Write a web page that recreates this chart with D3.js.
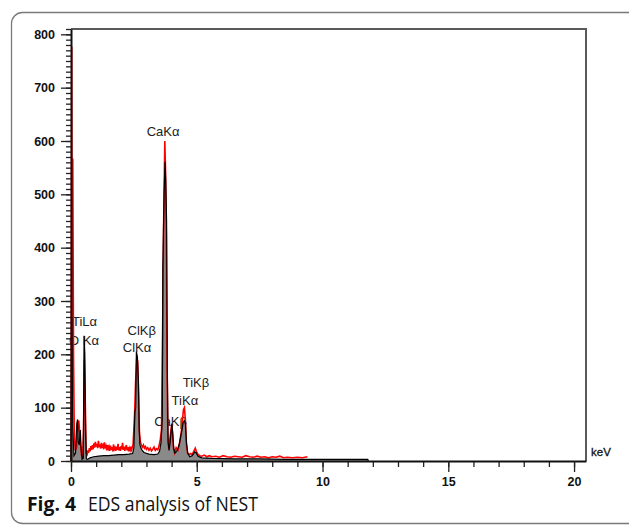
<!DOCTYPE html>
<html>
<head>
<meta charset="utf-8">
<script src="https://cdn.jsdelivr.net/npm/d3@7"></script>
<style>
  html, body { margin: 0; padding: 0; background: #fff; }
  svg { display: block; }
</style>
</head>
<body>
<div id="chart"></div>
<script>
// EDS spectrum of NEST, two acquisitions (gray filled + red line)
const xTicks = [0, 5, 10, 15, 20];
const yTicks = [0, 100, 200, 300, 400, 500, 600, 700, 800];

const blackKeV = [0.00, 0.03, 0.07, 0.12, 0.18, 0.23, 0.26, 0.29, 0.33, 0.37, 0.40, 0.44, 0.49, 0.52, 0.55, 0.58, 0.61, 0.66,
  0.75, 0.90, 1.10, 1.30, 1.50, 1.70, 1.90, 2.10, 2.30, 2.45, 2.50, 2.54, 2.57, 2.60, 2.64, 2.68, 2.71, 2.74, 2.80, 2.90,
  3.10, 3.30, 3.45, 3.52, 3.58, 3.63, 3.65, 3.70, 3.74, 3.77, 3.80, 3.83, 3.86, 3.90, 3.95, 4.01, 4.04, 4.08, 4.13, 4.20,
  4.30, 4.40, 4.46, 4.51, 4.55, 4.59, 4.64, 4.72, 4.82, 4.92, 4.98, 5.05, 5.20, 5.60, 6.50, 7.50, 8.50, 9.50, 10.50, 11.50,
  11.80, 11.82];
const blackCounts = [0, 270, 60, 10, 15, 70, 78, 35, 30, 58, 25, 3, 5, 235, 200, 60, 4, 3,
  6, 8, 9, 10, 10, 11, 12, 12, 13, 14, 25, 92, 100, 205, 195, 150, 60, 30, 22, 16,
  13, 12, 13, 18, 35, 80, 360, 500, 561, 520, 450, 170, 35, 20, 38, 70, 55, 25, 15, 18,
  30, 55, 72, 75, 70, 35, 15, 8, 10, 17, 15, 9, 6, 5, 4, 4, 3, 3, 3, 3,
  3, 0];

const redKeV = [0.00, 0.03, 0.05, 0.07, 0.10, 0.13, 0.17, 0.22, 0.27, 0.31, 0.35, 0.38, 0.42, 0.46, 0.50, 0.53, 0.56, 0.60,
  0.64, 0.67, 0.70, 0.73, 0.76, 0.79, 0.82, 0.85, 0.88, 0.91, 0.94, 0.97, 1.00, 1.03, 1.06, 1.09, 1.12, 1.15, 1.18, 1.21,
  1.24, 1.27, 1.30, 1.33, 1.36, 1.39, 1.42, 1.45, 1.48, 1.51, 1.54, 1.57, 1.60, 1.63, 1.66, 1.69, 1.72, 1.75, 1.78, 1.81,
  1.84, 1.87, 1.90, 1.93, 1.96, 1.99, 2.02, 2.05, 2.08, 2.11, 2.14, 2.17, 2.20, 2.23, 2.26, 2.29, 2.32, 2.35, 2.38, 2.41,
  2.44, 2.47, 2.53, 2.57, 2.61, 2.65, 2.69, 2.72, 2.76, 2.80, 2.84, 2.88, 2.92, 2.96, 3.00,
  3.05, 3.10, 3.15, 3.20, 3.25, 3.30, 3.35, 3.40, 3.45, 3.50, 3.55, 3.60, 3.64, 3.68, 3.73, 3.76, 3.79, 3.82, 3.85, 3.89,
  3.94, 4.00, 4.04, 4.08, 4.12, 4.18, 4.25, 4.32, 4.40, 4.47, 4.51, 4.55, 4.59, 4.64, 4.70, 4.76, 4.82, 4.88, 4.94, 5.00,
  5.06, 5.12, 5.20, 5.30, 5.40, 5.50, 5.60, 5.75, 5.90, 6.05, 6.20, 6.35, 6.50, 6.65, 6.80, 6.95, 7.10, 7.25, 7.40, 7.55,
  7.70, 7.85, 8.00, 8.15, 8.30, 8.45, 8.60, 8.80, 9.00, 9.20, 9.40];
const redCounts = [0, 777, 120, 567, 200, 50, 20, 25, 60, 76, 50, 30, 10, 8, 60, 190, 130, 15,
  12, 20, 15, 24, 18, 28, 21, 30, 22, 33, 25, 36, 27, 32, 24, 38, 26, 31, 23, 34,
  25, 29, 22, 35, 24, 28, 20, 30, 23, 27, 19, 29, 21, 26, 18, 31, 22, 25, 19, 27,
  21, 32, 20, 26, 19, 28, 22, 34, 21, 27, 19, 25, 30, 20, 26, 18, 24, 20, 27, 21,
  26, 32, 90, 150, 190, 188, 120, 55, 35, 30, 26, 30, 24, 27, 22,
  25, 20, 24, 19, 22, 26, 20, 23, 21, 28, 40, 60, 230, 430, 600, 540, 420, 180, 50, 22,
  45, 68, 50, 22, 15, 25, 20, 35, 60, 96, 100, 75, 30, 14, 12, 14, 12, 18, 24, 16,
  12, 10, 9, 11, 8, 10, 8, 9, 7, 10, 8, 7, 9, 8, 7, 10, 8, 7, 9, 7,
  8, 6, 8, 7, 9, 6, 7, 6, 7, 6, 8];

const peakNames = ['TiLα', 'O Kα', 'ClKβ', 'ClKα', 'CaKα', 'TiKβ', 'TiKα', 'CaKβ'];
const peakKeV = [0.04, -0.08, 2.25, 2.06, 3.01, 4.44, 4.00, 3.31];
const peakCounts = [253, 217, 236, 205, 609, 139, 105, 66];

const width = 629, height = 525;
const plot = { left: 71, right: 586, top: 29, bottom: 461 };

const svg = d3.select('#chart')
  .append('svg')
  .attr('width', width)
  .attr('height', height);

// outer rounded panel
svg.append('rect')
  .attr('x', 11.5).attr('y', 12.5)
  .attr('width', 640).attr('height', 511)
  .attr('rx', 11)
  .attr('fill', 'none')
  .attr('stroke', '#7a7a7a')
  .attr('stroke-width', 1.3);

const x = d3.scaleLinear().domain([0, 20.475]).range([plot.left, plot.right]);
const y = d3.scaleLinear().domain([0, 810]).range([plot.bottom, plot.top]);

// peak labels go underneath the spectrum lines
svg.append('g')
  .selectAll('text')
  .data(peakNames)
  .enter()
  .append('text')
  .attr('x', (d, i) => x(peakKeV[i]))
  .attr('y', (d, i) => y(peakCounts[i]))
  .style('font-family', 'Liberation Sans, Arial, sans-serif')
  .style('font-size', '13px')
  .style('fill', '#222')
  .text(d => d);

const black = blackKeV.map((e, i) => [e, blackCounts[i]]);
const red = redKeV.map((e, i) => [e, redCounts[i]]);

const area = d3.area()
  .x(d => x(d[0]))
  .y0(y(0))
  .y1(d => y(d[1]));
const line = d3.line()
  .x(d => x(d[0]))
  .y(d => y(d[1]));

svg.append('path')
  .datum(black)
  .attr('d', area)
  .attr('fill', '#8a8a8a');

svg.append('path')
  .datum(red)
  .attr('d', line)
  .attr('fill', 'none')
  .attr('stroke', '#ff0000')
  .attr('stroke-width', 1.6);

svg.append('path')
  .datum(black)
  .attr('d', line)
  .attr('fill', 'none')
  .attr('stroke', '#000')
  .attr('stroke-width', 1.2);

// frame top/right
svg.append('path')
  .attr('d', `M${plot.left},${plot.top}H${plot.right}V${plot.bottom}`)
  .attr('fill', 'none')
  .attr('stroke', '#5a5a5a')
  .attr('stroke-width', 2);

// axes
const yMinor = svg.append('g')
  .attr('transform', `translate(${plot.left},0)`)
  .call(d3.axisLeft(y).tickValues(d3.range(0, 811, 10)).tickSize(5).tickFormat(''));
yMinor.select('.domain').remove();

const yAxis = svg.append('g')
  .attr('transform', `translate(${plot.left},0)`)
  .call(d3.axisLeft(y).tickValues(yTicks).tickSize(10).tickPadding(6).tickSizeOuter(0));

const xMinor = svg.append('g')
  .attr('transform', `translate(0,${plot.bottom})`)
  .call(d3.axisBottom(x).tickValues(d3.range(0, 21, 1)).tickSize(6).tickFormat(''));
xMinor.select('.domain').remove();

const xAxis = svg.append('g')
  .attr('transform', `translate(0,${plot.bottom})`)
  .call(d3.axisBottom(x).tickValues(xTicks).tickSize(11).tickPadding(5).tickSizeOuter(0));

svg.selectAll('.tick line').attr('stroke', '#222').attr('stroke-width', 1.3);
svg.selectAll('.domain').attr('stroke', '#111').attr('stroke-width', 2);
svg.selectAll('.tick text')
  .style('font-family', 'Liberation Sans, Arial, sans-serif')
  .style('font-size', '12.5px')
  .style('font-weight', 'bold')
  .style('fill', '#111');

svg.append('text')
  .attr('x', 591).attr('y', 456)
  .style('font-family', 'Liberation Sans, Arial, sans-serif')
  .style('font-size', '11.5px')
  .style('fill', '#111')
  .style('stroke', '#111')
  .style('stroke-width', 0.3)
  .text('keV');

// caption
svg.append('text')
  .attr('x', 27).attr('y', 511)
  .attr('textLength', 49)
  .attr('lengthAdjust', 'spacingAndGlyphs')
  .style('font-family', 'Open Sans, sans-serif')
  .style('font-size', '19.5px')
  .style('font-weight', 'bold')
  .style('fill', '#111')
  .text('Fig. 4');
svg.append('text')
  .attr('x', 88).attr('y', 511)
  .attr('textLength', 170)
  .attr('lengthAdjust', 'spacingAndGlyphs')
  .style('font-family', 'Open Sans, sans-serif')
  .style('font-size', '19.5px')
  .style('fill', '#111')
  .text('EDS analysis of NEST');
</script>
</body>
</html>
